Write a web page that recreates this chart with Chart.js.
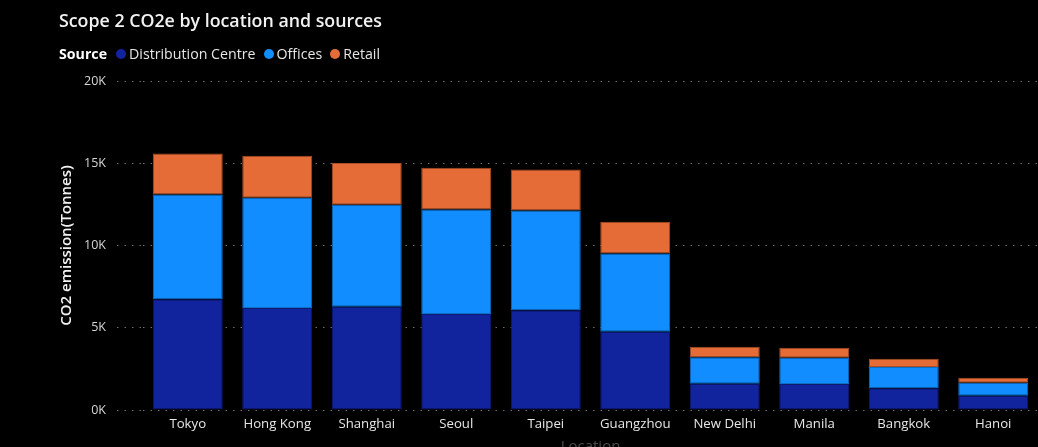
<!DOCTYPE html>
<html>
<head>
<meta charset="utf-8">
<script src="https://cdn.jsdelivr.net/npm/chart.js@4"></script>
<style>
    html, body { margin: 0; padding: 0; background: #000; overflow: hidden; }
    #wrap { position: absolute; left: 0; top: 0; width: 1038px; height: 447px; }
    #title {
        position: absolute; left: 59px; top: 8px;
        font-family: 'Open Sans', sans-serif; font-weight: 600; font-size: 17.8px;
        color: #f2f2f2; white-space: nowrap;
    }
    #legend {
        position: absolute; left: 59px; top: 44px;
        font-family: 'Open Sans', sans-serif; font-size: 14.2px; color: #e6e6e6;
        display: flex; align-items: center; white-space: nowrap;
    }
    #legend b { font-weight: 700; color: #fff; margin-right: 9px; }
    .item { display: flex; align-items: center; margin-right: 8px; }
    .dot { width: 10px; height: 10px; border-radius: 50%; margin-right: 3px; }
</style>
</head>
<body>
<div id="wrap">
    <canvas id="chart" width="1038" height="447"></canvas>
    <div id="title">Scope 2 CO2e by location and sources</div>
    <div id="legend"><b>Source</b></div>
</div>
<script>
'use strict';

// Categories and series (tonnes)
const locations = ['Tokyo', 'Hong Kong', 'Shanghai', 'Seoul', 'Taipei', 'Guangzhou', 'New Delhi', 'Manila', 'Bangkok', 'Hanoi'];
const distributionCentre = [6740, 6200, 6280, 5830, 6060, 4760, 1600, 1580, 1320, 870];
const offices = [6360, 6700, 6190, 6360, 6070, 4760, 1600, 1600, 1290, 790];
const retail = [2500, 2550, 2550, 2530, 2490, 1920, 650, 610, 510, 300];

const seriesNames = ['Distribution Centre', 'Offices', 'Retail'];
const seriesColors = ['#12239E', '#118DFF', '#E66C37'];
const seriesBorders = ['#0d1a73', '#0e6fc8', '#a84f28'];
const yTicks = [0, 5000, 10000, 15000, 20000];

// Build the HTML legend
const legendEl = document.getElementById('legend');
seriesNames.forEach((name, i) => {
    const item = document.createElement('span');
    item.className = 'item';
    item.innerHTML = `<span class="dot" style="background:${seriesColors[i]}"></span>${name}`;
    legendEl.appendChild(item);
});

const seriesData = [distributionCentre, offices, retail];

const ctx = document.getElementById('chart');
new Chart(ctx, {
    type: 'bar',
    data: {
        labels: locations,
        datasets: seriesNames.map((name, i) => ({
            label: name,
            data: seriesData[i],
            backgroundColor: seriesColors[i],
            borderColor: seriesBorders[i],
            borderWidth: 1,
            borderSkipped: false,
            categoryPercentage: 1,
            barPercentage: 0.782
        }))
    },
    options: {
        responsive: false,
        animation: false,
        layout: {
            padding: { left: 58, top: 81, right: 0, bottom: 0 }
        },
        plugins: {
            legend: { display: false },
            tooltip: { enabled: false }
        },
        scales: {
            x: {
                stacked: true,
                grid: { display: false, drawTicks: false },
                border: { display: false },
                ticks: {
                    color: '#e6e6e6',
                    padding: 6,
                    maxRotation: 0,
                    font: { family: 'Open Sans', size: 13.2 }
                },
                title: {
                    display: true,
                    text: 'Location',
                    color: '#4a4a4a',
                    padding: { top: 0, bottom: -9 },
                    font: { family: 'Open Sans', size: 15 }
                },
                afterFit: function(scale) {
                    scale.height = 37;
                }
            },
            y: {
                stacked: true,
                min: 0,
                max: 20000,
                afterBuildTicks: function(scale) {
                    scale.ticks = yTicks.map(v => ({ value: v }));
                },
                grid: {
                    color: '#6e6e6e',
                    lineWidth: 1,
                    tickLength: 26,
                    tickColor: '#6e6e6e',
                    tickBorderDash: [1.5, 6]
                },
                border: { display: false, dash: [1.5, 6] },
                ticks: {
                    color: '#d6d6d6',
                    padding: 11,
                    font: { family: 'Open Sans', size: 12.5 },
                    callback: function(value) {
                        return (value / 1000) + 'K';
                    }
                },
                title: {
                    display: true,
                    text: 'CO2 emission(Tonnes)',
                    color: '#f2f2f2',
                    padding: { top: 0, bottom: 0 },
                    font: { family: 'Open Sans', size: 15, weight: '600' }
                },
                afterFit: function(scale) {
                    scale.width = 85;
                }
            }
        }
    }
});
</script>
</body>
</html>
